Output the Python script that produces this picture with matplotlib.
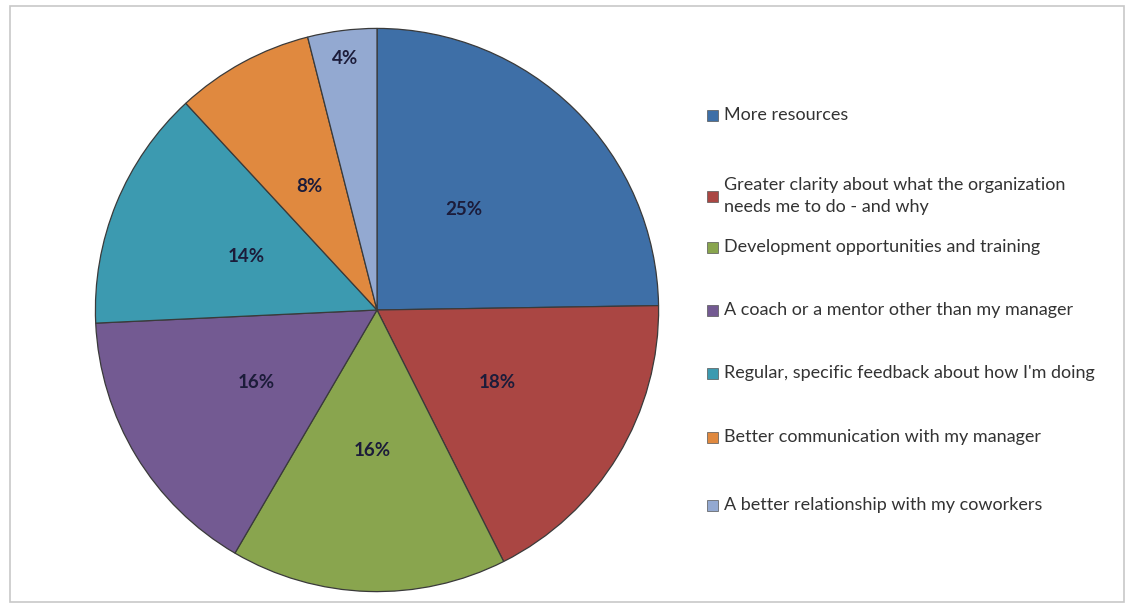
import matplotlib.pyplot as plt
from matplotlib.patches import Rectangle

# data
labels = [
    "More resources",
    "Greater clarity about what the organization\nneeds me to do - and why",
    "Development opportunities and training",
    "A coach or a mentor other than my manager",
    "Regular, specific feedback about how I'm doing",
    "Better communication with my manager",
    "A better relationship with my coworkers",
]
values = [25, 18, 16, 16, 14, 8, 4]
colors = ["#3E6FA7", "#AA4643", "#89A54E", "#735A92", "#3C9AB0", "#E0893F", "#93A9D1"]

W, H = 1134, 608
fig = plt.figure(figsize=(W / 100, H / 100), dpi=100)
plt.rcParams["font.family"] = ["Lato", "DejaVu Sans"]

# light outer frame
fig.patches.append(Rectangle((10 / W, 6 / H), 1114 / W, 596 / H, transform=fig.transFigure,
                             fill=False, edgecolor="#C8C8C8", linewidth=1.2))

# pie axes
cx, cy, r = 377, 310, 283
ax = fig.add_axes([(cx - r) / W, (H - cy - r) / H, 2 * r / W, 2 * r / H])
wedges, texts = ax.pie(
    values,
    colors=colors,
    startangle=90,
    counterclock=False,
    labels=[f"{v}%" for v in values],
    labeldistance=0.5,
    wedgeprops=dict(edgecolor="#3A3A3A", linewidth=0.9),
    textprops=dict(fontsize=13.5, fontweight="bold", color="#1C1C3A", ha="center", va="center"),
)
# small slice label sits near the rim
x, y = texts[-1].get_position()
texts[-1].set_position((x / 0.5 * 0.9, y / 0.5 * 0.9))
x, y = texts[0].get_position()
texts[0].set_position((x * 0.88, y))
ax.set_xlim(-1.005, 1.005)
ax.set_ylim(-1.005, 1.005)
ax.set_aspect("equal")

# legend, drawn by hand
ys = [115, 196, 247, 310, 373, 437, 505]
for lab, col, yy in zip(labels, colors, ys):
    fig.patches.append(Rectangle((707 / W, (H - yy - 5.5) / H), 11 / W, 11 / H,
                                 transform=fig.transFigure, facecolor=col,
                                 edgecolor="#555555", linewidth=0.5))
    fig.text(724 / W, (H - yy) / H, lab, fontsize=13, color="#333333",
             va="center", ha="left", linespacing=1.45)

fig.savefig("out.png", dpi=100)
